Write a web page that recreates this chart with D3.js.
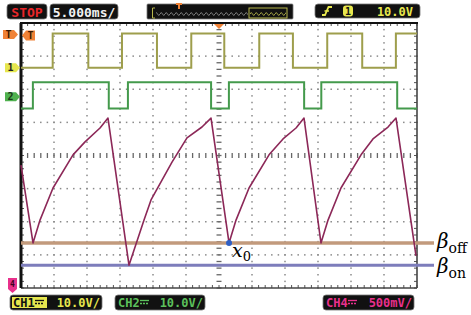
<!DOCTYPE html>
<html>
<head>
<meta charset="utf-8">
<script src="https://cdn.jsdelivr.net/npm/d3@7"></script>
<style>
  body { margin: 0; background: #fff; }
  svg { display: block; }
  .mono { font-family: "DejaVu Sans Mono", monospace; font-weight: bold; }
  .math { font-family: "DejaVu Serif", "Liberation Serif", serif; }
</style>
</head>
<body>
<svg id="scope" width="471" height="315"></svg>
<script>
// time in ms (5 ms/div, trigger at 0), vertical values in screen divisions
const timeDomain = [-30, 30];
const divDomain = [-4, 4];

// channel 1: edge times, starts low
const ch1Edges = [-25.2, -19.8, -14.7, -9.4, -4.2, 0.8, 6.1, 11.2, 16.4, 21.7, 26.8];
const ch1Levels = [2.65, 3.68];

// channel 2: edge times, starts low
const ch2Edges = [-28.2, -16.7, -13.8, -1.2, 1.5, 12.9, 15.5, 27.0];
const ch2Levels = [1.42, 2.21];

// channel 4: sawtooth [ms, div]
const ch4Points = [
  [-30.0, -0.29],
  [-28.18, -2.64], [-27.12, -1.95], [-25.15, -0.98], [-22.12, 0.02], [-20.30, 0.41], [-18.03, 0.83], [-16.82, 1.13],
  [-13.64, -3.31], [-11.36, -1.95], [-10.30, -1.34], [-7.12, -0.20], [-4.85, 0.53], [-2.58, 0.86], [-1.21, 1.13],
  [1.52, -2.64], [2.58, -1.95], [4.55, -0.98], [7.58, 0.02], [9.70, 0.50], [11.67, 0.83], [12.88, 1.13],
  [15.45, -2.64], [16.52, -1.95], [18.48, -0.98], [21.52, 0.02], [23.33, 0.50], [25.61, 0.86], [26.82, 1.13],
  [29.85, -3.03]
];

const betaOff = -2.64, betaOn = -3.31;
const x0Point = [1.52, -2.64];

const ch1Offset = 2.65, ch2Offset = 1.77, triggerLevel = 3.65;

const svg = d3.select('#scope');
const x = d3.scaleLinear().domain(timeDomain).range([21, 417]);
const y = d3.scaleLinear().domain(divDomain).range([288, 23]);

const defs = svg.append('defs');
defs.append('pattern')
  .attr('id', 'wave').attr('width', 5).attr('height', 6)
  .attr('patternUnits', 'userSpaceOnUse').attr('y', 11)
  .append('path').attr('d', 'M0,3 Q1.25,0 2.5,3 T5,3')
  .attr('fill', 'none').attr('stroke', '#9a9a9a').attr('stroke-width', 0.8);
defs.append('pattern')
  .attr('id', 'waveY').attr('width', 5).attr('height', 6)
  .attr('patternUnits', 'userSpaceOnUse').attr('y', 11)
  .append('path').attr('d', 'M0,3 Q1.25,0 2.5,3 T5,3')
  .attr('fill', 'none').attr('stroke', '#c8c850').attr('stroke-width', 0.8);

// ---- grid ----
const grid = svg.append('g');
const majorT = d3.range(-25, 26, 5).filter(d => d !== 0);
const majorV = d3.range(-3, 4, 1).filter(d => d !== 0);
const minorT = d3.range(-30, 30.01, 1);
const minorV = d3.range(-4, 4.01, 0.2);

majorT.forEach(t => {
  grid.selectAll(null).data(minorV).enter().append('rect')
    .attr('x', x(t) - 0.75).attr('y', d => y(d) - 0.75)
    .attr('width', 1.5).attr('height', 1.5).attr('fill', '#8a8a8a');
});
majorV.forEach(v => {
  grid.selectAll(null).data(minorT).enter().append('rect')
    .attr('x', d => x(d) - 0.75).attr('y', y(v) - 0.75)
    .attr('width', 1.5).attr('height', 1.5).attr('fill', '#8a8a8a');
});
// centre cross with dashes
grid.selectAll(null).data(minorT).enter().append('line')
  .attr('x1', d => x(d)).attr('x2', d => x(d))
  .attr('y1', y(0) - 2.5).attr('y2', y(0) + 2.5)
  .attr('stroke', '#666').attr('stroke-width', 1.3);
grid.selectAll(null).data(minorV).enter().append('line')
  .attr('y1', d => y(d)).attr('y2', d => y(d))
  .attr('x1', x(0) - 2.5).attr('x2', x(0) + 2.5)
  .attr('stroke', '#666').attr('stroke-width', 1.3);

// border ticks
grid.selectAll(null).data(minorT).enter().append('line')
  .attr('x1', d => x(d)).attr('x2', d => x(d))
  .attr('y1', y(4)).attr('y2', y(4) + 3).attr('stroke', '#555');
grid.selectAll(null).data(minorT).enter().append('line')
  .attr('x1', d => x(d)).attr('x2', d => x(d))
  .attr('y1', y(-4)).attr('y2', y(-4) - 3).attr('stroke', '#555');
grid.selectAll(null).data(minorV).enter().append('line')
  .attr('y1', d => y(d)).attr('y2', d => y(d))
  .attr('x1', x(-30)).attr('x2', x(-30) + 3).attr('stroke', '#555');
grid.selectAll(null).data(minorV).enter().append('line')
  .attr('y1', d => y(d)).attr('y2', d => y(d))
  .attr('x1', x(30)).attr('x2', x(30) - 3).attr('stroke', '#555');

// frame
svg.append('line').attr('x1', x(30)).attr('x2', x(30)).attr('y1', y(4)).attr('y2', y(-4))
  .attr('stroke', '#444').attr('stroke-width', 1.6);
svg.append('line').attr('x1', x(-30)).attr('x2', x(30)).attr('y1', y(-4)).attr('y2', y(-4))
  .attr('stroke', '#444').attr('stroke-width', 1.6);
svg.append('line').attr('x1', x(-30) - 1).attr('x2', x(30) + 1).attr('y1', y(4)).attr('y2', y(4))
  .attr('stroke', '#111').attr('stroke-width', 2.2);
svg.append('line').attr('x1', x(-30)).attr('x2', x(-30)).attr('y1', y(4)).attr('y2', y(-4))
  .attr('stroke', '#111').attr('stroke-width', 3);

// ---- waveforms ----
function stepPoints(edges, levels) {
  let s = 0;
  const pts = [[timeDomain[0], levels[s]]];
  edges.forEach(e => {
    pts.push([e, levels[s]]);
    s = 1 - s;
    pts.push([e, levels[s]]);
  });
  pts.push([timeDomain[1], levels[s]]);
  return pts;
}
const line = d3.line().x(d => x(d[0])).y(d => y(d[1]));

svg.append('path').attr('d', line(stepPoints(ch1Edges, ch1Levels)))
  .attr('fill', 'none').attr('stroke', '#9e9e4c').attr('stroke-width', 2);
svg.append('path').attr('d', line(stepPoints(ch2Edges, ch2Levels)))
  .attr('fill', 'none').attr('stroke', '#449a4c').attr('stroke-width', 2);

// beta lines
svg.append('line').attr('x1', x(-30)).attr('x2', x(30) + 17)
  .attr('y1', y(betaOff)).attr('y2', y(betaOff))
  .attr('stroke', '#c29a7c').attr('stroke-width', 3.5);
svg.append('line').attr('x1', x(-30)).attr('x2', x(30) + 17)
  .attr('y1', y(betaOn)).attr('y2', y(betaOn))
  .attr('stroke', '#7d7dbb').attr('stroke-width', 3);

svg.append('path').attr('d', line(ch4Points))
  .attr('fill', 'none').attr('stroke', '#8c2858').attr('stroke-width', 1.6)
  .attr('stroke-linejoin', 'round');

svg.append('circle').attr('cx', x(x0Point[0])).attr('cy', y(x0Point[1]))
  .attr('r', 3).attr('fill', '#2f5fc4');

// labels
const lx = x(30) + 20;
const bOff = svg.append('text').attr('class', 'math').attr('x', lx).attr('y', y(betaOff) + 5);
bOff.append('tspan').attr('font-style', 'italic').attr('font-size', 20).text('β');
bOff.append('tspan').attr('font-size', 14).attr('dy', 5).text('off');
const bOn = svg.append('text').attr('class', 'math').attr('x', lx).attr('y', y(betaOn) + 8);
bOn.append('tspan').attr('font-style', 'italic').attr('font-size', 20).text('β');
bOn.append('tspan').attr('font-size', 14).attr('dy', 5).text('on');
const xl = svg.append('text').attr('class', 'math')
  .attr('x', x(x0Point[0]) + 3).attr('y', y(x0Point[1]) + 14);
xl.append('tspan').attr('font-style', 'italic').attr('font-size', 19).text('x');
xl.append('tspan').attr('font-size', 13).attr('dy', 4).text('0');

// ---- markers ----
function tag(tipX, tipY, w, h, dir, fill, label, color) {
  const s = dir === 'right' ? -1 : 1;
  const pts = [[tipX, tipY], [tipX + s * 4, tipY - h / 2], [tipX + s * w, tipY - h / 2],
    [tipX + s * w, tipY + h / 2], [tipX + s * 4, tipY + h / 2]];
  svg.append('polygon').attr('points', pts.map(p => p.join(',')).join(' ')).attr('fill', fill);
  svg.append('text').attr('class', 'mono').attr('font-size', 10)
    .attr('x', tipX + s * (w + 4) / 2).attr('y', tipY + 3.5)
    .attr('text-anchor', 'middle').attr('fill', color).text(label);
}
tag(18, y(triggerLevel), 15, 9, 'right', '#f08236', 'T', '#3a1a00');
tag(22, y(triggerLevel) + 1, 13, 10, 'left', '#f08236', 'T', '#3a1a00');
tag(20, y(ch1Offset), 15, 9, 'right', '#e6e64e', '1', '#222');
tag(20, y(ch2Offset), 15, 9, 'right', '#4fb14f', '2', '#1a3a1a');
svg.append('polygon').attr('points', '8,278 17,278 17,289 12.5,293 8,289').attr('fill', '#e8308c');
svg.append('text').attr('class', 'mono').attr('font-size', 8).attr('x', 12.5).attr('y', 287)
  .attr('text-anchor', 'middle').attr('fill', '#3a0020').text('4');
// trigger position marker
svg.append('polygon').attr('points', `${x(0) - 5},${y(4) + 1} ${x(0) + 5},${y(4) + 1} ${x(0)},${y(4) + 6}`)
  .attr('fill', '#f08236');

// ---- top status bar ----
function box(x0, y0, w, h) {
  return svg.append('rect').attr('x', x0).attr('y', y0).attr('width', w).attr('height', h)
    .attr('rx', 3).attr('fill', '#111').attr('stroke', '#777').attr('stroke-width', 0.8);
}
box(7, 4, 40, 15);
svg.append('text').attr('class', 'mono').attr('font-size', 13).attr('x', 27).attr('y', 16.5)
  .attr('text-anchor', 'middle').attr('fill', '#e8262a').text('STOP');
box(50, 4, 68, 15);
svg.append('text').attr('class', 'mono').attr('font-size', 13).attr('x', 84).attr('y', 16.5)
  .attr('text-anchor', 'middle').attr('fill', '#f2f2f2').text('5.000ms/');

box(147, 4, 146, 15).attr('rx', 1);
svg.append('rect').attr('x', 156).attr('y', 11).attr('width', 92).attr('height', 6).attr('fill', 'url(#wave)');
svg.append('rect').attr('x', 249).attr('y', 8).attr('width', 38).attr('height', 10)
  .attr('fill', 'none').attr('stroke', '#b8b84c').attr('stroke-width', 1);
svg.append('rect').attr('x', 250).attr('y', 11).attr('width', 36).attr('height', 6).attr('fill', 'url(#waveY)');
svg.append('path').attr('d', 'M155,8 H152.5 V18 H155').attr('fill', 'none').attr('stroke', '#b8b84c');
svg.append('path').attr('d', 'M176,3 H182 V5 H180 V9 H178 V5 H176 Z').attr('fill', '#f08236');

box(315, 4, 105, 14);
svg.append('path').attr('d', 'M322,15 H325 L328.5,7 H332').attr('fill', 'none')
  .attr('stroke', '#e8e84e').attr('stroke-width', 1.8);
svg.append('path').attr('d', 'M324.5,11 H329').attr('stroke', '#e8e84e').attr('stroke-width', 1.5);
svg.append('rect').attr('x', 343).attr('y', 5.5).attr('width', 10).attr('height', 11).attr('rx', 3).attr('fill', '#e8e84e');
svg.append('text').attr('class', 'mono').attr('font-size', 10).attr('x', 348).attr('y', 14.5)
  .attr('text-anchor', 'middle').attr('fill', '#111').text('1');
svg.append('text').attr('class', 'mono').attr('font-size', 12).attr('x', 413).attr('y', 15.5)
  .attr('text-anchor', 'end').attr('fill', '#e8e84e').text('10.0V');

// ---- bottom channel boxes ----
function chanBox(x0, w, name, scale, color, highlight) {
  box(x0, 295, w, 15);
  if (highlight) {
    svg.append('rect').attr('x', x0 + 2).attr('y', 297).attr('width', 35).attr('height', 11).attr('fill', color);
  }
  const fg = highlight ? '#111' : color;
  svg.append('text').attr('class', 'mono').attr('font-size', 12).attr('x', x0 + 3).attr('y', 307)
    .attr('fill', fg).text(name);
  const sx = x0 + 25;
  svg.append('line').attr('x1', sx).attr('x2', sx + 9).attr('y1', 300.5).attr('y2', 300.5)
    .attr('stroke', fg).attr('stroke-width', 1.3);
  svg.append('line').attr('x1', sx).attr('x2', sx + 9).attr('y1', 303.5).attr('y2', 303.5)
    .attr('stroke', fg).attr('stroke-width', 1.3).attr('stroke-dasharray', '2,1');
  svg.append('text').attr('class', 'mono').attr('font-size', 12).attr('x', x0 + w - 2).attr('y', 307)
    .attr('text-anchor', 'end').attr('fill', color).text(scale);
}
chanBox(10, 92, 'CH1', '10.0V/', '#e6e64e', true);
chanBox(115, 90, 'CH2', '10.0V/', '#5cc05c', false);
chanBox(323, 91, 'CH4', '500mV/', '#e8308c', false);
</script>
</body>
</html>
